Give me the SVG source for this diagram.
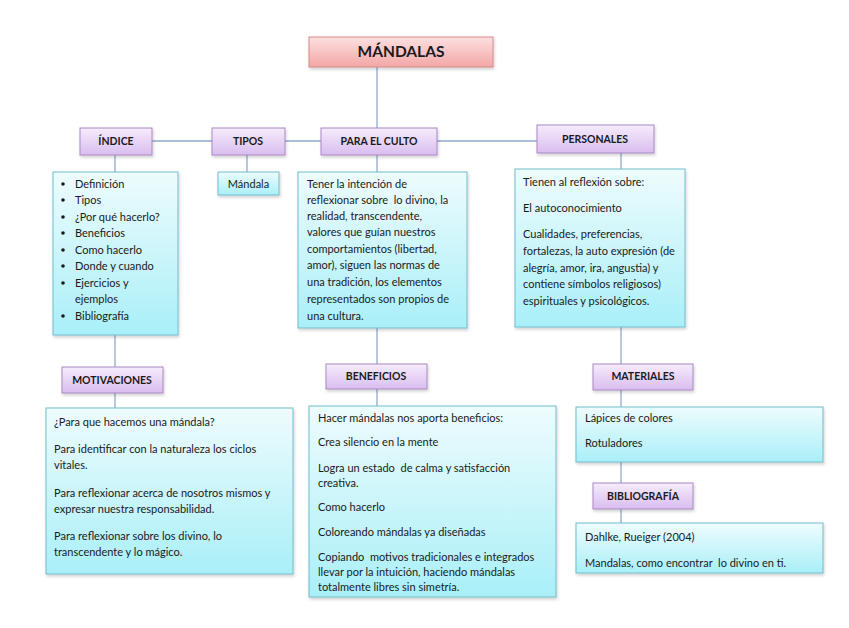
<svg xmlns="http://www.w3.org/2000/svg" width="849" height="628" viewBox="0 0 849 628">
<defs>
<linearGradient id="gPink" x1="0" y1="0" x2="0" y2="1"><stop offset="0" stop-color="#fde0e0"/><stop offset="1" stop-color="#f3a6a6"/></linearGradient>
<linearGradient id="gPurple" x1="0" y1="0" x2="0" y2="1"><stop offset="0" stop-color="#f6ecfc"/><stop offset="1" stop-color="#d9bdef"/></linearGradient>
<linearGradient id="gCyan" x1="0" y1="0" x2="0" y2="1"><stop offset="0" stop-color="#eefcfd"/><stop offset="1" stop-color="#a9eff8"/></linearGradient>
<filter id="sh" x="-10%" y="-10%" width="130%" height="140%"><feDropShadow dx="1" dy="2" stdDeviation="1.5" flood-color="#000" flood-opacity="0.18"/></filter>
<style>
.pink{fill:url(#gPink);stroke:#d58a8a;stroke-width:1;filter:url(#sh)}
.pur{fill:url(#gPurple);stroke:#a889c2;stroke-width:1;filter:url(#sh)}
.cy{fill:url(#gCyan);stroke:#72bccb;stroke-width:1;filter:url(#sh)}
.con line{stroke:#8faacf;stroke-width:1.3}
text{font-family:Lato,"Liberation Sans",sans-serif;fill:#1a1a1a;white-space:pre}
.t{font-size:11px}
.lb{font-size:10.5px;font-weight:bold;text-anchor:middle}
.ti{font-size:15.5px;font-weight:bold;text-anchor:middle}
.bul{fill:#1a1a1a}
</style>
</defs>
<rect width="849" height="628" fill="#fff"/>
<g class="con">
<line x1="377" y1="67" x2="377" y2="128"/>
<line x1="152" y1="141" x2="212" y2="141"/>
<line x1="285" y1="141" x2="321" y2="141"/>
<line x1="437" y1="141" x2="537" y2="141"/>
<line x1="115" y1="155" x2="115" y2="172"/>
<line x1="115" y1="335" x2="115" y2="367"/>
<line x1="115" y1="393" x2="115" y2="408"/>
<line x1="247" y1="155" x2="247" y2="172"/>
<line x1="377" y1="155" x2="377" y2="172"/>
<line x1="377" y1="328" x2="377" y2="364"/>
<line x1="377" y1="389" x2="377" y2="406"/>
<line x1="621" y1="153" x2="621" y2="169"/>
<line x1="621" y1="327" x2="621" y2="364"/>
<line x1="621" y1="390" x2="621" y2="407"/>
<line x1="621" y1="462" x2="621" y2="483"/>
<line x1="621" y1="509" x2="621" y2="523"/>
</g>
<g id="mandalas"><rect class="pink" x="309" y="37" width="184" height="30"/><text class="ti" x="401" y="57">MÁNDALAS</text></g>
<g id="indice"><rect class="pur" x="80" y="128" width="72" height="27"/><text class="lb" x="116" y="145">ÍNDICE</text></g>
<g id="tipos"><rect class="pur" x="212" y="128" width="73" height="27"/><text class="lb" x="248" y="145">TIPOS</text></g>
<g id="culto"><rect class="pur" x="321" y="128" width="116" height="27"/><text class="lb" x="379" y="145">PARA EL CULTO</text></g>
<g id="personales"><rect class="pur" x="537" y="125" width="117" height="28"/><text class="lb" x="595" y="143">PERSONALES</text></g>
<g id="lista"><rect class="cy" x="53" y="172" width="125" height="163"/>
<g class="t">
<circle class="bul" cx="63" cy="184" r="1.8"/><text x="75" y="188">Definición</text>
<circle class="bul" cx="63" cy="200" r="1.8"/><text x="75" y="204">Tipos</text>
<circle class="bul" cx="63" cy="217" r="1.8"/><text x="75" y="221">¿Por qué hacerlo?</text>
<circle class="bul" cx="63" cy="233" r="1.8"/><text x="75" y="237">Beneficios</text>
<circle class="bul" cx="63" cy="250" r="1.8"/><text x="75" y="254">Como hacerlo</text>
<circle class="bul" cx="63" cy="266" r="1.8"/><text x="75" y="270">Donde y cuando</text>
<circle class="bul" cx="63" cy="283" r="1.8"/><text x="75" y="287">Ejercicios y</text>
<text x="75" y="303">ejemplos</text>
<circle class="bul" cx="63" cy="316" r="1.8"/><text x="75" y="320">Bibliografía</text>
</g></g>
<g id="mandala"><rect class="cy" x="218" y="172" width="61" height="23"/><text class="t" x="248.5" y="188" text-anchor="middle">Mándala</text></g>
<g id="cultoTxt"><rect class="cy" x="298" y="172" width="169" height="156"/>
<g class="t">
<text x="307" y="188">Tener la intención de</text>
<text x="307" y="204">reflexionar sobre  lo divino, la</text>
<text x="307" y="220">realidad, transcendente,</text>
<text x="307" y="236">valores que guían nuestros</text>
<text x="307" y="253">comportamientos (libertad,</text>
<text x="307" y="269">amor), siguen las normas de</text>
<text x="307" y="286">una tradición, los elementos</text>
<text x="307" y="303">representados son propios de</text>
<text x="307" y="320">una cultura.</text>
</g></g>
<g id="personalesTxt"><rect class="cy" x="515" y="169" width="170" height="158"/>
<g class="t">
<text x="523" y="186">Tienen al reflexión sobre:</text>
<text x="523" y="212">El autoconocimiento</text>
<text x="523" y="238">Cualidades, preferencias,</text>
<text x="523" y="255">fortalezas, la auto expresión (de</text>
<text x="523" y="272">alegría, amor, ira, angustia) y</text>
<text x="523" y="288">contiene símbolos religiosos)</text>
<text x="523" y="305">espirituales y psicológicos.</text>
</g></g>
<g id="motivaciones"><rect class="pur" x="62" y="367" width="101" height="26"/><text class="lb" x="112" y="384">MOTIVACIONES</text></g>
<g id="beneficios"><rect class="pur" x="326" y="364" width="101" height="25"/><text class="lb" x="376" y="380">BENEFICIOS</text></g>
<g id="materiales"><rect class="pur" x="593" y="364" width="100" height="26"/><text class="lb" x="643" y="380">MATERIALES</text></g>
<g id="motivTxt"><rect class="cy" x="46" y="408" width="247" height="166"/>
<g class="t">
<text x="54" y="426">¿Para que hacemos una mándala?</text>
<text x="54" y="453">Para identificar con la naturaleza los ciclos</text>
<text x="54" y="469">vitales.</text>
<text x="54" y="497">Para reflexionar acerca de nosotros mismos y</text>
<text x="54" y="513">expresar nuestra responsabilidad.</text>
<text x="54" y="540">Para reflexionar sobre los divino, lo</text>
<text x="54" y="556">transcendente y lo mágico.</text>
</g></g>
<g id="benefTxt"><rect class="cy" x="309" y="406" width="247" height="191"/>
<g class="t">
<text x="318" y="422">Hacer mándalas nos aporta beneficios:</text>
<text x="318" y="446">Crea silencio en la mente</text>
<text x="318" y="472">Logra un estado  de calma y satisfacción</text>
<text x="318" y="487">creativa.</text>
<text x="318" y="511">Como hacerlo</text>
<text x="318" y="536">Coloreando mándalas ya diseñadas</text>
<text x="318" y="561">Copiando  motivos tradicionales e integrados</text>
<text x="318" y="576">llevar por la intuición, haciendo mándalas</text>
<text x="318" y="591">totalmente libres sin simetría.</text>
</g></g>
<g id="materialesTxt"><rect class="cy" x="576" y="407" width="247" height="55"/>
<g class="t">
<text x="585" y="422">Lápices de colores</text>
<text x="585" y="447">Rotuladores</text>
</g></g>
<g id="bibliografia"><rect class="pur" x="593" y="483" width="100" height="26"/><text class="lb" x="643" y="500">BIBLIOGRAFÍA</text></g>
<g id="biblioTxt"><rect class="cy" x="576" y="523" width="247" height="50"/>
<g class="t">
<text x="585" y="541">Dahlke, Rueiger (2004)</text>
<text x="585" y="567">Mandalas, como encontrar  lo divino en ti.</text>
</g></g>
</svg>
